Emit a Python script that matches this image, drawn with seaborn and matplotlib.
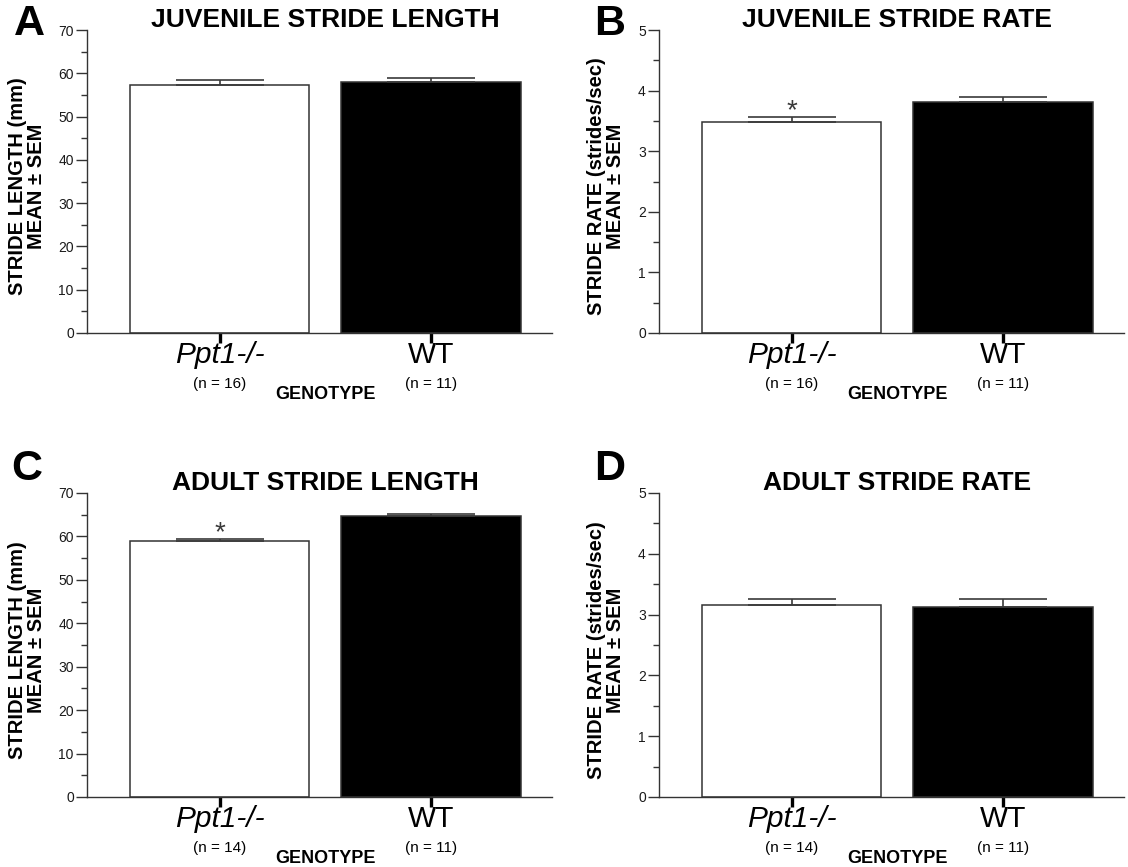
import matplotlib
matplotlib.use("Agg")
import matplotlib.pyplot as plt
import seaborn as sns
import pandas as pd
from matplotlib.ticker import MultipleLocator

sns.set_style("ticks")
plt.rcParams["font.family"] = ["Liberation Sans", "DejaVu Sans"]
plt.rcParams["text.color"] = "black"
plt.rcParams["axes.labelcolor"] = "black"
plt.rcParams["xtick.labelcolor"] = "black"
plt.rcParams["ytick.labelcolor"] = "black"

# ---- data -------------------------------------------------------------
genotypes = ["Ppt1-/-", "WT"]

juv_length_mean = [57.3, 58.1]
juv_length_sem = [1.2, 0.7]
juv_n = [16, 11]

juv_rate_mean = [3.49, 3.81]
juv_rate_sem = [0.08, 0.08]

adult_length_mean = [58.9, 64.6]
adult_length_sem = [0.6, 0.6]
adult_n = [14, 11]

adult_rate_mean = [3.16, 3.13]
adult_rate_sem = [0.10, 0.12]

panels = [
    dict(letter="A", title="JUVENILE STRIDE LENGTH", mean=juv_length_mean,
         sem=juv_length_sem, n=juv_n, ylabel="STRIDE LENGTH (mm)\nMEAN \u00b1 SEM",
         ymax=70, major=10, minor=5, star=[]),
    dict(letter="B", title="JUVENILE STRIDE RATE", mean=juv_rate_mean,
         sem=juv_rate_sem, n=juv_n, ylabel="STRIDE RATE (strides/sec)\nMEAN \u00b1 SEM",
         ymax=5, major=1, minor=0.5, star=[0]),
    dict(letter="C", title="ADULT STRIDE LENGTH", mean=adult_length_mean,
         sem=adult_length_sem, n=adult_n, ylabel="STRIDE LENGTH (mm)\nMEAN \u00b1 SEM",
         ymax=70, major=10, minor=5, star=[0]),
    dict(letter="D", title="ADULT STRIDE RATE", mean=adult_rate_mean,
         sem=adult_rate_sem, n=adult_n, ylabel="STRIDE RATE (strides/sec)\nMEAN \u00b1 SEM",
         ymax=5, major=1, minor=0.5, star=[]),
]

# ---- layout (pixels on a 1128 x 867 canvas) ---------------------------
W, H = 1128, 867
fig = plt.figure(figsize=(W / 100, H / 100), dpi=100)

# left spine x, top y, bottom y
boxes = [(87, 30, 333), (659, 30, 333), (87, 493, 797), (659, 493, 797)]
axw = 465
ylabel_x = [27, 606, 27, 606]
letter_pos = [(29, 24), (610, 24), (27, 469), (610, 469)]

line_col = "#333333"

for p, (lx, ty, by), ylx, (ltx, lty) in zip(panels, boxes, ylabel_x, letter_pos):
    ax = fig.add_axes([lx / W, 1 - by / H, axw / W, (by - ty) / H])
    df = pd.DataFrame({"genotype": genotypes, "value": p["mean"]})
    sns.barplot(data=df, x="genotype", y="value", hue="genotype",
                palette=["white", "black"], edgecolor=line_col, linewidth=1.1,
                width=0.85, errorbar=None, legend=False, ax=ax, zorder=2)
    # one-sided SEM bars
    ax.errorbar([0, 1], p["mean"], yerr=[[0, 0], p["sem"]], fmt="none",
                ecolor="#3a3a3a", elinewidth=1.2, capsize=32, capthick=1.2,
                zorder=3)
    for i in p["star"]:
        ax.annotate("*", xy=(i, p["mean"][i] + p["sem"][i]), xytext=(0, -1),
                    textcoords="offset points", ha="center", va="baseline",
                    fontsize=20, color="#3a3a3a")

    ax.set_xlim(-0.627, 1.572)
    ax.set_ylim(0, p["ymax"])
    ax.yaxis.set_major_locator(MultipleLocator(p["major"]))
    ax.yaxis.set_minor_locator(MultipleLocator(p["minor"]))
    ax.set_yticklabels([f"{v:g}" for v in ax.get_yticks()])
    ax.tick_params(axis="y", which="major", length=8, width=1.0, color=line_col,
                   labelsize=10, pad=1.5, labelcolor="#1a1a1a")
    ax.tick_params(axis="y", which="minor", length=4, width=1.0, color=line_col)

    ax.set_xticks([0, 1])
    ax.set_xticklabels(genotypes)
    ax.tick_params(axis="x", length=7, width=2.4, color="black", labelsize=21.5,
                   pad=-1, labelcolor="black")
    ax.get_xticklabels()[0].set_style("italic")

    for side in ("top", "right"):
        ax.spines[side].set_visible(False)
    for side in ("left", "bottom"):
        ax.spines[side].set_color(line_col)
        ax.spines[side].set_linewidth(1.0)

    ax.set_xlabel("")
    ax.set_ylabel("")

    for i, n in enumerate(p["n"]):
        ax.annotate(f"(n = {n})", xy=(i, 0), xycoords=("data", "axes fraction"),
                    xytext=(0, -36.5), textcoords="offset points",
                    ha="center", va="center", fontsize=11, color="black")
    ax.annotate("GENOTYPE", xy=(0.5, 0), xycoords=("data", "axes fraction"),
                xytext=(0, -44), textcoords="offset points",
                ha="center", va="center", fontsize=13, fontweight="bold",
                color="black")

    ax.annotate(p["title"], xy=(0.5, 1), xycoords=("data", "axes fraction"),
                xytext=(0, 7.5), textcoords="offset points",
                ha="center", va="center", fontsize=19, fontweight="bold",
                color="black")

    fig.text(ylx / W, 1 - ((ty + by) / 2 + 5) / H, p["ylabel"], rotation=90,
             ha="center", va="center", multialignment="center",
             fontsize=14.5, fontweight="bold", linespacing=0.95, color="black")

    fig.text(ltx / W, 1 - lty / H, p["letter"], ha="center", va="center",
             fontsize=31, fontweight="bold", color="black")

fig.savefig("out.png", dpi=100)
